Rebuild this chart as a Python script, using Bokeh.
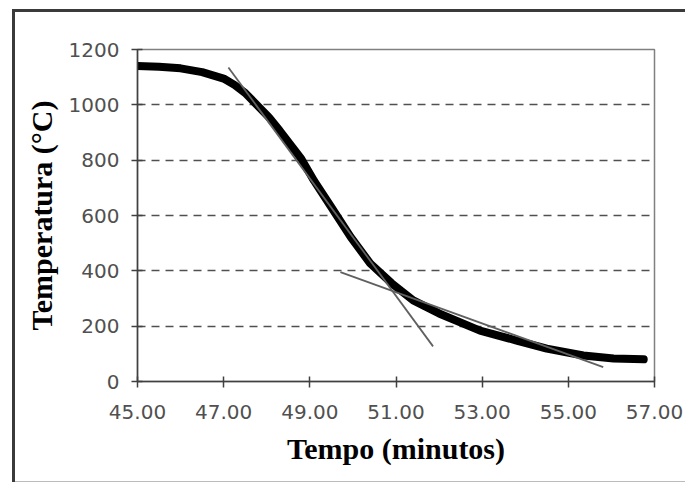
from bokeh.plotting import figure
from bokeh.models import FixedTicker, Range1d
from bokeh.embed import file_html
from bokeh.resources import INLINE

# Data
time_min = [45.0, 45.5, 46.0, 46.5, 47.0, 47.25, 47.5, 47.8, 48.05, 48.3, 48.8, 49.1,
            49.5, 49.95, 50.4, 50.9, 51.4, 52.0, 52.95, 53.8, 54.5, 55.35, 56.05, 56.75]
temperature = [1140, 1138, 1132, 1118, 1095, 1072, 1043, 995, 955, 907, 805, 725,
               630, 522, 427, 355, 293, 246, 184, 148, 119, 94, 83, 80]

tangent1_time = [47.11, 51.86]
tangent1_temp = [1135, 127]
tangent2_time = [49.71, 55.81]
tangent2_temp = [395, 52]

x_ticks = [45, 47, 49, 51, 53, 55, 57]
x_tick_labels = ["45.00", "47.00", "49.00", "51.00", "53.00", "55.00", "57.00"]
y_ticks = [0, 200, 400, 600, 800, 1000, 1200]
grid_ticks = [200, 400, 600, 800, 1000]

p = figure(width=685, height=482, output_backend="svg", toolbar_location=None,
           x_range=Range1d(45, 57), y_range=Range1d(0, 1200),
           min_border_left=137, min_border_right=31,
           min_border_top=49, min_border_bottom=101)

p.background_fill_color = "white"
p.border_fill_color = None
p.outline_line_color = "#808080"
p.outline_line_width = 1.5

# outer chart border drawn with CSS (dark left/top, light bottom)
p.styles = {
    "background-color": "white",
    "box-shadow": ("inset 12px 9px 0 0 white, inset 15px 12px 0 0 #3a3a3a, "
                   "inset 0 -1px 0 0 #bbbbbb"),
}

# grids
p.xgrid.visible = False
p.ygrid.ticker = FixedTicker(ticks=grid_ticks)
p.ygrid.grid_line_color = "#505050"
p.ygrid.grid_line_width = 1.5
p.ygrid.grid_line_dash = "8 6"

# axes
for ax in (p.xaxis[0], p.yaxis[0]):
    ax.axis_line_color = "#404040"
    ax.axis_line_width = 1.5
    ax.major_tick_line_color = "#404040"
    ax.major_tick_line_width = 1.5
    ax.major_tick_in = 5
    ax.major_tick_out = 6
    ax.minor_tick_line_color = None
    ax.major_label_text_font = "DejaVu Sans"
    ax.major_label_text_font_size = "20px"
    ax.major_label_text_color = "#505050"
    ax.axis_label_text_font = "Liberation Serif"
    ax.axis_label_text_font_style = "bold"
    ax.axis_label_text_font_size = "30px"
    ax.axis_label_text_color = "black"

p.xaxis.ticker = FixedTicker(ticks=x_ticks)
p.xaxis.major_label_overrides = {t: l for t, l in zip(x_ticks, x_tick_labels)}
p.xaxis.major_label_standoff = 17
p.xaxis.axis_label = "Tempo (minutos)"
p.xaxis.axis_label_standoff = 10

p.yaxis.ticker = FixedTicker(ticks=y_ticks)
p.yaxis.major_label_standoff = 12
p.yaxis.axis_label = "Temperatura (°C)"
p.yaxis.axis_label_standoff = 8

# data
p.line(time_min, temperature, line_color="black", line_width=8, line_join="round", line_cap="round")
p.line(tangent1_time, tangent1_temp, line_color="#606060", line_width=1.8)
p.line(tangent2_time, tangent2_temp, line_color="#606060", line_width=1.8)

open("out.html", "w").write(file_html(p, INLINE))
